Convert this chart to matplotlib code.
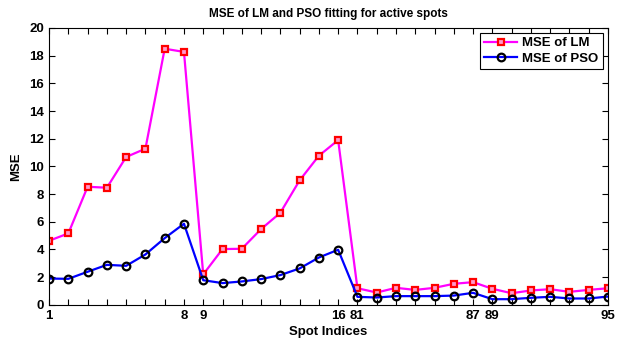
import matplotlib
matplotlib.use('Agg')
import matplotlib.pyplot as plt
import numpy as np

# spot indices (88 is missing) and mse values
spots = list(range(1, 17)) + list(range(81, 88)) + list(range(89, 96))
mse_lm = [4.63, 5.16, 8.53, 8.46, 10.68, 11.28, 18.5, 18.27,
          2.2, 4.03, 4.05, 5.47, 6.65, 8.99, 10.77, 11.9,
          1.2, 0.89, 1.23, 1.08, 1.23, 1.52, 1.64,
          1.16, 0.84, 1.04, 1.13, 0.94, 1.08, 1.2]
mse_pso = [1.9, 1.88, 2.39, 2.89, 2.82, 3.64, 4.82, 5.86,
           1.78, 1.57, 1.69, 1.86, 2.15, 2.63, 3.42, 3.98,
           0.58, 0.53, 0.63, 0.63, 0.63, 0.67, 0.87,
           0.41, 0.41, 0.51, 0.58, 0.46, 0.46, 0.6]
shown = [1, 8, 9, 16, 81, 87, 89, 95]

plt.rcParams['font.family'] = ['Liberation Sans', 'DejaVu Sans']
plt.rcParams['font.weight'] = 'bold'

x = np.arange(1, len(spots) + 1)

fig = plt.figure(figsize=(6.21, 3.41), dpi=100)
ax = fig.add_axes([0.079, 0.106, 0.9, 0.812])

ax.plot(x, mse_lm, color='magenta', lw=1.6, marker='s', ms=5,
        mec='red', mew=1.6, mfc='#ff99cc', label='MSE of LM')
ax.plot(x, mse_pso, color='blue', lw=1.6, marker='o', ms=5.5,
        mec='black', mew=1.6, mfc='none', label='MSE of PSO')

ax.set_xlim(1, len(spots))
ax.set_ylim(0, 20)
ax.set_yticks(np.arange(0, 21, 2))
ax.set_xticks(x)
ax.set_xticklabels([str(s) if s in shown else '' for s in spots])
ax.tick_params(direction='in', top=True, right=True, labelsize=9.5, length=4, width=0.8)
for lab in ax.get_xticklabels() + ax.get_yticklabels():
    lab.set_fontweight('bold')

ax.set_title('MSE of LM and PSO fitting for active spots', fontsize=8.5, fontweight='bold', pad=8)
ax.set_xlabel('Spot Indices', fontsize=9.5, fontweight='bold', labelpad=3)
ax.set_ylabel('MSE', fontsize=9.5, fontweight='bold', labelpad=5)

leg = ax.legend(loc='upper right', fontsize=9.5, fancybox=False, framealpha=1,
                edgecolor='black', borderaxespad=0.4, handlelength=2.5, borderpad=0.3,
                labelspacing=0.25, handletextpad=0.4)
leg.get_frame().set_linewidth(0.8)

fig.savefig('out.png', dpi=100)
